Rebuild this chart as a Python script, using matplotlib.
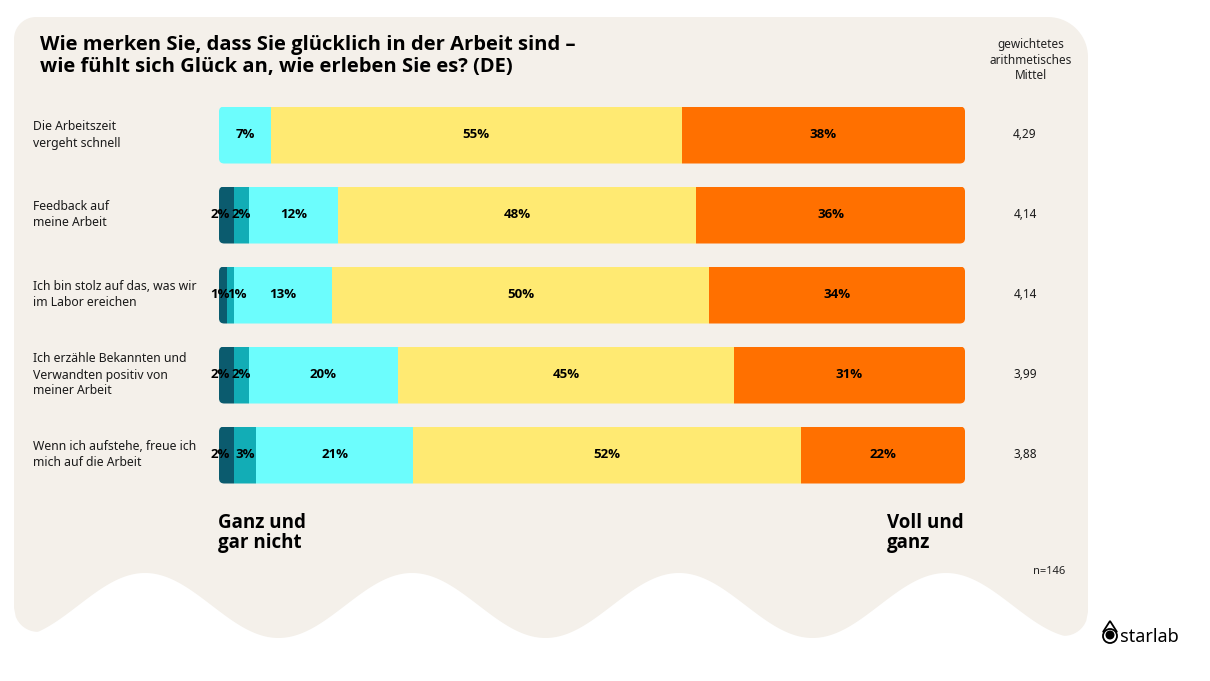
import numpy as np
import matplotlib.pyplot as plt
import matplotlib.transforms as mtransforms
from matplotlib.patches import FancyBboxPatch, Polygon, Circle

# Daten
kategorien = [
    "Die Arbeitszeit\nvergeht schnell",
    "Feedback auf\nmeine Arbeit",
    "Ich bin stolz auf das, was wir\nim Labor ereichen",
    "Ich erzähle Bekannten und\nVerwandten positiv von\nmeiner Arbeit",
    "Wenn ich aufstehe, freue ich\nmich auf die Arbeit",
]
ganz_und_gar_nicht = [0, 2, 1, 2, 2]
eher_nicht = [0, 2, 1, 2, 3]
teils_teils = [7, 12, 13, 20, 21]
eher = [55, 48, 50, 45, 52]
voll_und_ganz = [38, 36, 34, 31, 22]
mittel = ["4,29", "4,14", "4,14", "3,99", "3,88"]

serien = [ganz_und_gar_nicht, eher_nicht, teils_teils, eher, voll_und_ganz]
farben = ["#0b5b6e", "#12adb6", "#6cfdfd", "#ffea72", "#ff7000"]
beige = "#f4f0ea"

W, H = 1210, 681
fig = plt.figure(figsize=(W / 100, H / 100), dpi=100)
fig.patch.set_facecolor("white")

# Hintergrund-Achse in Pixelkoordinaten
bg = fig.add_axes([0, 0, 1, 1])
bg.set_xlim(0, W)
bg.set_ylim(H, 0)
bg.axis("off")

# Panel mit Wellen-Unterkante
x0, x1, ytop = 14, 1088, 17
r_tl, r_tr, r_b = 22, 40, 24


def welle(x):
    return 605.5 - 32.5 * np.cos(2 * np.pi * (x - 145) / 267)


pts = []
for a in np.linspace(np.pi, 1.5 * np.pi, 20):
    pts.append((x0 + r_tl + r_tl * np.cos(a), ytop + r_tl + r_tl * np.sin(a)))
for a in np.linspace(1.5 * np.pi, 2 * np.pi, 20):
    pts.append((x1 - r_tr + r_tr * np.cos(a), ytop + r_tr + r_tr * np.sin(a)))
yr = welle(x1 - r_b)
yl = welle(x0 + r_b)
for x in np.linspace(x1, x0, 600):
    d_r = x1 - x
    d_l = x - x0
    if d_r < r_b:
        y = yr - r_b + np.sqrt(r_b ** 2 - (r_b - d_r) ** 2)
    elif d_l < r_b:
        y = yl - r_b + np.sqrt(r_b ** 2 - (r_b - d_l) ** 2)
    else:
        y = welle(x)
    pts.append((x, y))
bg.add_patch(Polygon(pts, closed=True, facecolor=beige, edgecolor="none"))

# Titel
bg.text(40, 56, "Wie merken Sie, dass Sie glücklich in der Arbeit sind –\nwie fühlt sich Glück an, wie erleben Sie es? (DE)",
        fontsize=14.5, fontweight="bold", family="Open Sans", va="center", ha="left",
        linespacing=1.1, color="black")
bg.text(1031, 60, "gewichtetes\narithmetisches\nMittel", fontsize=8.5, family="Noto Sans",
        ha="center", va="center", linespacing=1.25, color="#222222")

bg.text(218, 533, "Ganz und\ngar nicht", fontsize=13.5, fontweight="bold", family="Open Sans",
        ha="left", va="center", linespacing=1.0)
bg.text(887, 533, "Voll und\nganz", fontsize=13.5, fontweight="bold", family="Open Sans",
        ha="left", va="center", linespacing=1.0)
bg.text(1049, 572, "n=146", fontsize=8, family="Noto Sans", ha="center", va="center", color="#222222")

# Logo
bg.add_patch(Polygon([(1103, 632), (1110, 621), (1117, 632)], closed=True, facecolor="none",
                     edgecolor="black", lw=1.3))
bg.add_patch(Circle((1110, 636), 7, facecolor="white", edgecolor="black", lw=1.3))
bg.add_patch(Circle((1110, 635), 4.5, facecolor="black", edgecolor="none"))
bg.text(1120, 637, "starlab", fontsize=13, family="Noto Sans", ha="left", va="center", color="black")

# Balken-Achse
ax = fig.add_axes([219 / W, 1 - 495 / H, 746 / W, 400 / H])
ax.set_xlim(0, 100)
ax.set_ylim(len(kategorien) - 0.5, -0.5)
ax.axis("off")

hoehe = 57 / 80
y = np.arange(len(kategorien))
werte = np.array(serien, dtype=float)
werte = werte / werte.sum(axis=0) * 100
links = np.zeros(len(kategorien))

clip_boxen = []
for i in range(len(kategorien)):
    box = FancyBboxPatch((0, i - hoehe / 2), 100, hoehe,
                         boxstyle="round,pad=0,rounding_size=0.7",
                         mutation_aspect=0.09, transform=ax.transData,
                         facecolor="none", edgecolor="none")
    clip_boxen.append(box)

for s, (vals, roh, farbe) in enumerate(zip(werte, serien, farben)):
    bars = ax.barh(y, vals, left=links, height=hoehe, color=farbe, edgecolor="none")
    for i, b in enumerate(bars):
        b.set_clip_path(clip_boxen[i])
        if roh[i] > 0:
            xm = links[i] + vals[i] / 2
            # kleine Segmente: Beschriftungen auseinanderziehen
            if s == 0:
                xm = 0.1
            elif s == 1:
                xm = max(xm, 2.4)
            ax.text(xm, i, f"{roh[i]}%", ha="center", va="center",
                    fontsize=9.5, fontweight="bold", family="Open Sans", color="black")
    links = links + vals

# Kategorien und Mittelwerte
trans = mtransforms.blended_transform_factory(bg.transData, ax.transData)
for i, (kat, m) in enumerate(zip(kategorien, mittel)):
    ax.text(33, i, kat, transform=trans, ha="left", va="center", fontsize=8.8,
            family="Noto Sans", linespacing=1.3, color="#1a1a1a")
    ax.text(1025, i, m, transform=trans, ha="center", va="center", fontsize=8.5,
            family="Noto Sans", color="#1a1a1a")

fig.savefig("out.png", dpi=100, facecolor="white")
